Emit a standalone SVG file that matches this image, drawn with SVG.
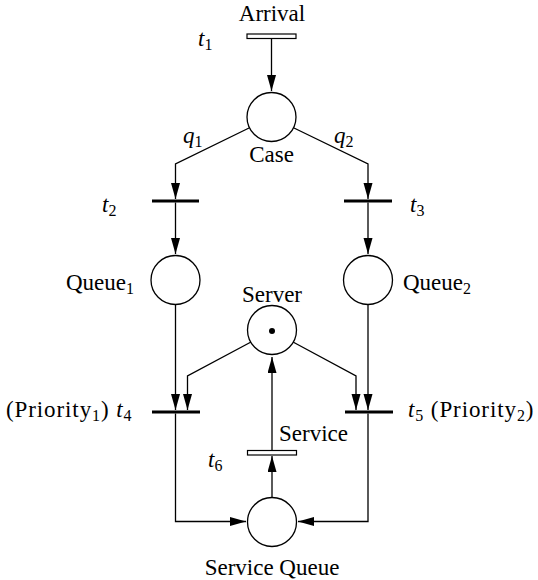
<svg xmlns="http://www.w3.org/2000/svg" width="538" height="580" viewBox="0 0 538 580">
  <style>
    .place { fill: #fff; stroke: #000; stroke-width: 1.3; }
    .bar { stroke: #000; stroke-width: 3; }
    .tbox { fill: #fff; stroke: #000; stroke-width: 1.2; }
    .arc { fill: none; stroke: #000; stroke-width: 1.3; marker-end: url(#head); }
    text { font-family: "Liberation Serif", "Times New Roman", serif; font-size: 23px; fill: #000; }
    .it { font-style: italic; }
    .sub { font-size: 16px; }
    .wide { letter-spacing: 0.9px; }
  </style>
  <defs>
    <marker id="head" markerUnits="userSpaceOnUse" markerWidth="17" markerHeight="10" refX="16" refY="4.5" orient="auto">
      <path d="M0,0 L16,4.5 L0,9 z" fill="#000"/>
    </marker>
  </defs>

  <!-- arcs of the net -->
  <g id="arcs">
    <path class="arc" d="M271.5,39 V91"/>
    <path class="arc" d="M249,128 L175.5,164 V199"/>
    <path class="arc" d="M294,128 L368,164 V199"/>
    <path class="arc" d="M175.5,202.5 V254"/>
    <path class="arc" d="M368,202.5 V254"/>
    <path class="arc" d="M175.5,305 V410"/>
    <path class="arc" d="M368,305 V410"/>
    <path class="arc" d="M251,342 L187.5,376 V410"/>
    <path class="arc" d="M293,342 L356,376 V410"/>
    <path class="arc" d="M272,450.5 V357"/>
    <path class="arc" d="M272,497 V456"/>
    <path class="arc" d="M175.5,413.5 V521.5 H246"/>
    <path class="arc" d="M368,413.5 V521.5 H298"/>
  </g>

  <!-- transitions -->
  <g id="t1">
    <rect class="tbox" x="247" y="34" width="49" height="4.5"/>
    <text x="272" y="21" text-anchor="middle">Arrival</text>
    <text x="198" y="46"><tspan class="it">t</tspan><tspan class="sub" dy="4">1</tspan></text>
  </g>
  <g id="t2">
    <line class="bar" x1="152" y1="201" x2="199" y2="201"/>
    <text x="102" y="212"><tspan class="it">t</tspan><tspan class="sub" dy="4">2</tspan></text>
  </g>
  <g id="t3">
    <line class="bar" x1="344" y1="201" x2="392" y2="201"/>
    <text x="410" y="212"><tspan class="it">t</tspan><tspan class="sub" dy="4">3</tspan></text>
  </g>
  <g id="t4">
    <line class="bar" x1="152" y1="412" x2="200" y2="412"/>
    <text class="wide" x="6" y="417">(Priority<tspan class="sub" dy="4">1</tspan><tspan dy="-4">) </tspan><tspan class="it">t</tspan><tspan class="sub" dy="4">4</tspan></text>
  </g>
  <g id="t5">
    <line class="bar" x1="345" y1="412" x2="393" y2="412"/>
    <text class="wide" x="408" y="417"><tspan class="it">t</tspan><tspan class="sub" dy="4">5</tspan><tspan dy="-4"> (Priority</tspan><tspan class="sub" dy="4">2</tspan><tspan dy="-4">)</tspan></text>
  </g>
  <g id="t6">
    <rect class="tbox" x="247.5" y="450.5" width="49" height="4.5"/>
    <text x="279" y="441">Service</text>
    <text x="208" y="467"><tspan class="it">t</tspan><tspan class="sub" dy="4">6</tspan></text>
  </g>

  <!-- places -->
  <g id="case">
    <circle class="place" cx="271.5" cy="117" r="24.5"/>
    <text x="271.5" y="162" text-anchor="middle">Case</text>
    <text x="183" y="143"><tspan class="it">q</tspan><tspan class="sub" dy="4">1</tspan></text>
    <text x="334" y="143"><tspan class="it">q</tspan><tspan class="sub" dy="4">2</tspan></text>
  </g>
  <g id="queue1">
    <circle class="place" cx="175.5" cy="280" r="24.5"/>
    <text x="134" y="290" text-anchor="end">Queue<tspan class="sub" dy="4">1</tspan></text>
  </g>
  <g id="queue2">
    <circle class="place" cx="368" cy="280" r="24.5"/>
    <text x="403" y="290">Queue<tspan class="sub" dy="4">2</tspan></text>
  </g>
  <g id="server">
    <circle class="place" cx="272" cy="330" r="24.5"/>
    <circle cx="272" cy="331" r="3" fill="#000"/>
    <text x="272" y="302" text-anchor="middle">Server</text>
  </g>
  <g id="service-queue">
    <circle class="place" cx="272" cy="522" r="24.5"/>
    <text x="272" y="575" text-anchor="middle">Service Queue</text>
  </g>
</svg>
